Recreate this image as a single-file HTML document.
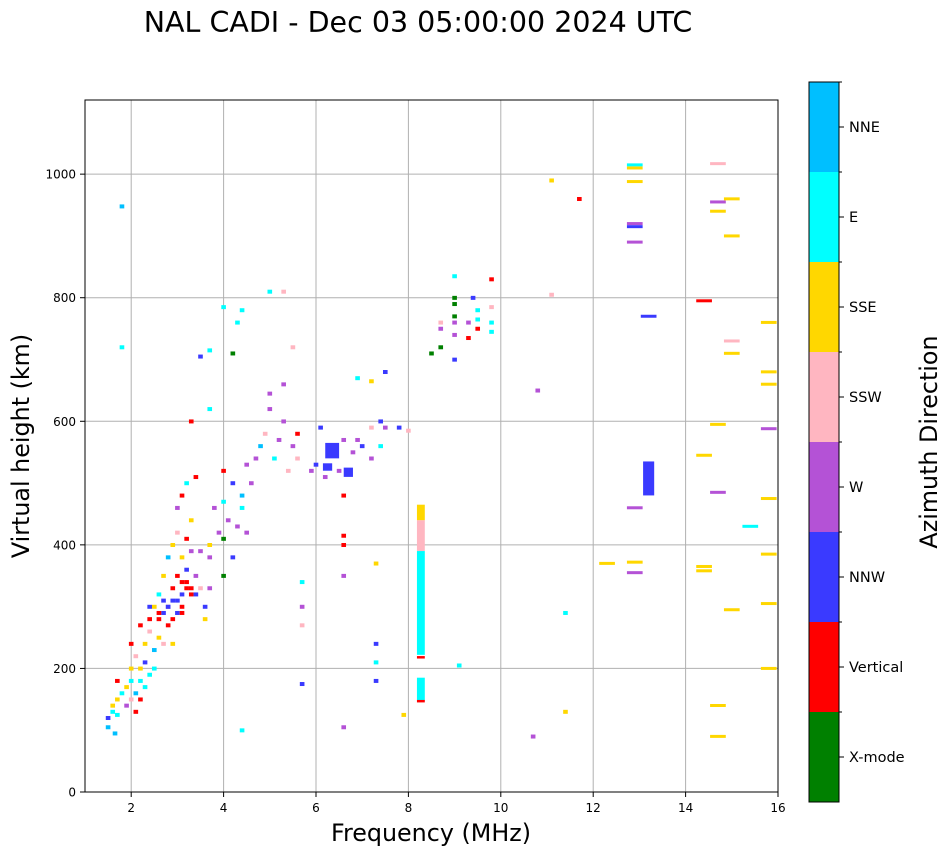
<!DOCTYPE html>
<html><head><meta charset="utf-8"><style>
body{margin:0;background:#fff;font-family:"DejaVu Sans","Liberation Sans",sans-serif}
svg{display:block}
</style></head><body>
<svg id="c" width="951" height="856" xmlns="http://www.w3.org/2000/svg">
<text x="418" y="32" font-size="28.5" text-anchor="middle">NAL CADI - Dec 03 05:00:00 2024 UTC</text>
<g id="grid"></g>
<g id="marks"></g>
<rect x="85" y="100" width="693" height="692" fill="none" stroke="#000" stroke-width="1"/>
<g id="axes" font-size="12"></g>
<text x="431" y="841" font-size="23.8" text-anchor="middle">Frequency (MHz)</text>
<text transform="translate(29,446) rotate(-90)" font-size="23.8" text-anchor="middle">Virtual height (km)</text>
<g id="cbar"></g>
<text transform="translate(937,442) rotate(-90)" font-size="23.8" text-anchor="middle">Azimuth Direction</text>
</svg>
<script>
const dirNames=["X-mode","Vertical","NNW","W","SSW","SSE","E","NNE"];
const dirColors=["#008000","#ff0000","#3a3aff","#b452d6","#ffb6c1","#ffd700","#00ffff","#00bfff"];
const xTicks=[2,4,6,8,10,12,14,16];
const yTicks=[0,200,400,600,800,1000];
// small echoes
const freqs=[1.5,1.5,1.6,1.6,1.7,1.7,1.65,1.8,1.9,1.9,2.0,2.0,2.0,2.1,2.1,2.1,2.2,2.2,2.2,2.3,2.3,2.3,2.4,2.4,2.4,2.5,2.5,2.5,2.6,2.6,2.6,2.7,2.7,2.7,2.8,2.8,2.8,2.9,2.9,2.9,2.9,3.0,3.0,3.0,3.0,3.1,3.1,3.1,3.1,3.2,3.2,3.2,3.2,3.3,3.3,3.3,3.4,3.4,3.5,3.5,3.6,3.6,3.7,3.7,3.7,3.8,3.9,4.0,4.0,4.0,4.0,4.1,4.2,4.2,4.3,4.4,4.4,4.5,4.5,4.6,4.7,4.8,4.9,5.0,5.1,5.2,5.3,5.4,5.5,5.6,5.6,5.7,5.7,5.7,5.7,5.9,6.0,6.1,6.2,6.3,6.5,6.6,6.6,6.6,6.6,6.6,6.6,6.8,6.9,7.0,7.2,7.2,7.3,7.3,7.3,7.3,7.4,7.4,7.5,7.8,8.0,4.4,4.3,4.2,4.0,3.7,3.5,3.7,3.3,1.8,1.8,5.0,5.3,5.5,5.3,5.0,6.9,7.2,7.5,4.4,7.9,8.5,8.7,8.7,8.7,9.0,9.0,9.0,9.0,9.0,9.0,9.0,9.3,9.3,9.4,9.5,9.5,9.5,9.8,9.8,9.8,9.8,9.1,10.8,10.7,11.1,11.1,11.4,11.4,11.7,3.1,3.0,2.9,3.2,2.8,2.6,2.4,2.2,2.0,1.7,3.4,3.1,3.3,2.7];
const heights=[105,120,130,140,150,125,95,160,140,170,180,150,200,130,160,220,180,200,150,170,240,210,190,260,280,230,200,300,250,280,320,240,290,350,270,300,380,240,310,330,400,290,350,420,460,300,320,380,480,330,360,410,500,320,390,440,510,350,330,390,280,300,330,380,400,460,420,350,410,520,470,440,380,500,430,460,480,420,530,500,540,560,580,620,540,570,600,520,560,540,580,340,300,270,175,520,530,590,510,550,520,570,480,400,350,105,415,550,570,560,590,540,370,240,210,180,560,600,590,590,585,780,760,710,785,715,705,620,600,720,948,810,810,720,660,645,670,665,680,100,125,710,750,760,720,800,760,740,700,790,835,770,735,760,800,750,780,765,760,830,785,745,205,650,90,990,805,130,290,960,290,310,280,340,300,290,300,270,240,180,320,340,330,310];
const dirs=[7,2,6,5,5,6,7,6,3,5,6,4,5,1,7,4,6,5,1,6,5,2,6,4,1,7,6,5,5,1,6,4,2,5,1,3,7,5,2,1,5,2,1,4,3,1,2,5,1,1,2,1,6,1,3,5,1,3,4,3,5,2,3,3,5,3,3,0,0,1,6,3,2,2,3,6,7,3,3,3,3,7,4,3,6,3,3,4,3,4,1,6,3,4,2,3,2,2,3,2,3,3,1,1,3,3,1,3,3,2,4,3,5,2,6,2,6,2,3,2,4,6,6,0,6,6,2,6,1,6,7,6,4,4,3,3,6,5,2,6,5,0,3,4,0,0,3,3,2,0,6,0,1,3,2,1,6,6,6,1,4,6,6,3,3,5,4,5,6,1,1,2,1,1,2,1,2,1,1,1,2,1,1,2];
// horizontal dashes (high freq)
const dashFreqs=[12.3,12.9,12.9,12.9,12.9,12.9,12.9,12.9,12.9,12.9,14.4,14.4,14.4,14.4,14.7,14.7,14.7,14.7,14.7,14.7,14.7,15.0,15.0,15.0,15.0,15.0,15.8,15.8,15.8,15.8,15.8,15.8,15.8,15.8,15.4,13.2];
const dashHeights=[370,1015,1010,988,920,915,890,460,372,355,795,545,365,358,1017,955,940,595,485,140,90,960,900,730,710,295,760,680,660,588,475,385,305,200,430,770];
const dashDirs=[5,6,5,5,3,2,3,3,5,3,1,5,5,5,4,3,5,5,3,5,5,5,5,4,5,5,5,5,5,3,5,5,5,5,6,2];
// vertical bars (freq center, freq span, low, high)
const barFreqs=[8.27,8.27,8.27,8.27,13.2,6.35,6.7,6.25,8.27,8.27];
const barWidths=[0.17,0.17,0.17,0.17,0.24,0.3,0.2,0.2,0.17,0.17];
const barLow=[222,390,440,148,480,540,510,520,216,145];
const barHigh=[390,440,465,185,535,565,525,532,220,149];
const barDirs=[6,4,5,6,2,2,2,2,1,1];

const NS="http://www.w3.org/2000/svg";
const X=f=>85+(f-1)*693/15, Y=h=>792-h*692/1120;
function mk(t,a,p){const e=document.createElementNS(NS,t);for(const k in a)e.setAttribute(k,a[k]);p.appendChild(e);return e;}
const grid=document.getElementById('grid'),axes=document.getElementById('axes'),marks=document.getElementById('marks'),cb=document.getElementById('cbar');
xTicks.forEach(v=>{const x=X(v);
 const g=mk('line',{x1:x,x2:x,y1:100,y2:792,stroke:'#b0b0b0','stroke-width':1},grid);
 
 
 mk('line',{x1:x,x2:x,y1:792,y2:797,stroke:'#000'},axes);
 const t=mk('text',{x:x,y:812,'text-anchor':'middle'},axes);t.textContent=v;
 
 });
yTicks.forEach(v=>{const y=Y(v);
 const g=mk('line',{x1:85,x2:778,y1:y,y2:y,stroke:'#b0b0b0','stroke-width':1},grid);
 
 
 mk('line',{x1:80,x2:85,y1:y,y2:y,stroke:'#000'},axes);
 const t=mk('text',{x:76,y:y+4.5,'text-anchor':'end'},axes);t.textContent=v;
 
 });
freqs.forEach((f,i)=>{
 const r=mk('rect',{x:X(f-0.05),y:Y(heights[i]+3),width:X(0.1)-X(0),height:4,fill:dirColors[dirs[i]]},marks);
 
 });
dashFreqs.forEach((f,i)=>{
 const r=mk('rect',{x:X(f-0.17),y:Y(dashHeights[i])-1.5,width:X(0.34)-X(0),height:3,fill:dirColors[dashDirs[i]]},marks);
 
 });
barFreqs.forEach((f,i)=>{
 const r=mk('rect',{x:X(f-barWidths[i]/2),y:Y(barHigh[i]),width:X(barWidths[i])-X(0),height:Y(barLow[i])-Y(barHigh[i]),fill:dirColors[barDirs[i]]},marks);
 
 });
dirNames.forEach((n,i)=>{const y0=802-(i+1)*90;
 const r=mk('rect',{x:809,y:y0,width:30,height:90,fill:dirColors[i]},cb);
 
 
 mk('line',{x1:839,x2:844,y1:y0+45,y2:y0+45,stroke:'#000'},cb);
 mk('line',{x1:839,x2:842,y1:y0,y2:y0,stroke:'#000'},cb);
 const t=mk('text',{x:849,y:y0+50,'font-size':14.5},cb);t.textContent=n;
 
 });
mk('rect',{x:809,y:82,width:30,height:720,fill:'none',stroke:'#000'},cb);
</script>
</body></html>
